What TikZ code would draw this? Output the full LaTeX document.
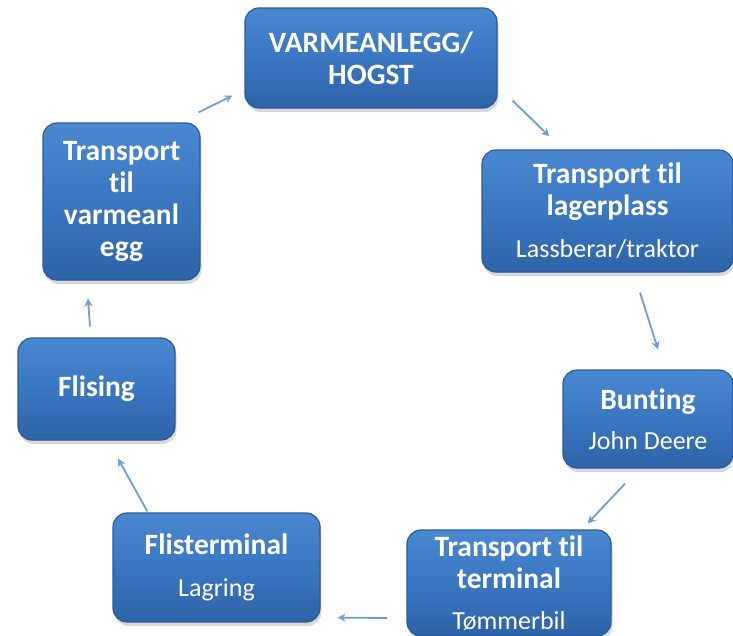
\documentclass[tikz,border=0pt]{standalone}
\usepackage{fontspec}
\setmainfont{Carlito}[Ligatures=NoCommon]
\usetikzlibrary{shadows,arrows.meta}
\definecolor{boxtop}{HTML}{4A88D2}
\definecolor{boxmid}{HTML}{3A77C2}
\definecolor{boxbot}{HTML}{2D63A8}
\definecolor{boxedge}{HTML}{2A5A98}
\definecolor{arrcol}{HTML}{6A9FDB}
\newcommand{\sub}{\fontsize{26}{32}\mdseries\selectfont}
\tikzset{
  box/.style={rounded corners=14pt, draw=boxedge, line width=1.2pt,
    top color=boxtop, bottom color=boxbot, middle color=boxmid,
    drop shadow={shadow xshift=1.5pt, shadow yshift=-4pt, opacity=0.3},
    text=white, align=center, inner sep=0pt,
    font=\fontsize{29.5}{32}\bfseries\selectfont},
  arr/.style={draw=arrcol, line width=1.8pt, -{Stealth[length=8pt,width=8pt]}}
}
\begin{document}
\begin{tikzpicture}[x=1pt,y=1pt]
\useasboundingbox (0,-635) rectangle (733,0);
\clip (0,-635) rectangle (733,0);
\node[box, minimum width=252pt, minimum height=100pt] (n1) at (371,-58)
  {VARMEANLEGG/\\HOGST};
\node[box, minimum width=251pt, minimum height=122pt] (n2) at (607.5,-211)
  {Transport til\\lagerplass\\[10pt]\sub Lassberar/traktor};
\node[box, minimum width=170pt, minimum height=98pt] (n3) at (648,-419)
  {Bunting\\[8pt]\sub John Deere};
\node[box, minimum width=204pt, minimum height=106pt] (n4) at (509,-583)
  {Transport til\\terminal\\[9pt]\sub Tømmerbil};
\node[box, minimum width=207pt, minimum height=109pt] (n5) at (216.5,-567.5)
  {Flisterminal\\[10pt]\sub Lagring};
\node[box, minimum width=157pt, minimum height=102pt] (n6) at (96.5,-389)
  {Flising};
\node[box, minimum width=157pt, minimum height=157pt] (n7) at (121.5,-201.5)
  {Transport\\til\\varmeanl\\egg};
\draw[arr] ([shift={(-2,10)}]n7.north east) -- ([shift={(-12,13)}]n1.south west);
\draw[arr] ([shift={(15,8)}]n1.south east) -- ([shift={(68,13)}]n2.north west);
\draw[arr] ([shift={(32.5,-20)}]n2.south) -- ([shift={(10,20)}]n3.north);
\draw[arr] ([shift={(-23,-15)}]n3.south) -- ([shift={(-24,6)}]n4.north east);
\draw[arr] ([shift={(-19,-35)}]n4.west) -- ([shift={(17,5)}]n5.south east);
\draw[arr] ([shift={(35,1)}]n5.north west) -- ([shift={(21.5,-18)}]n6.south);
\draw[arr] ([shift={(-6.5,11)}]n6.north) -- ([shift={(-33.5,-18)}]n7.south);
\end{tikzpicture}
\end{document}
